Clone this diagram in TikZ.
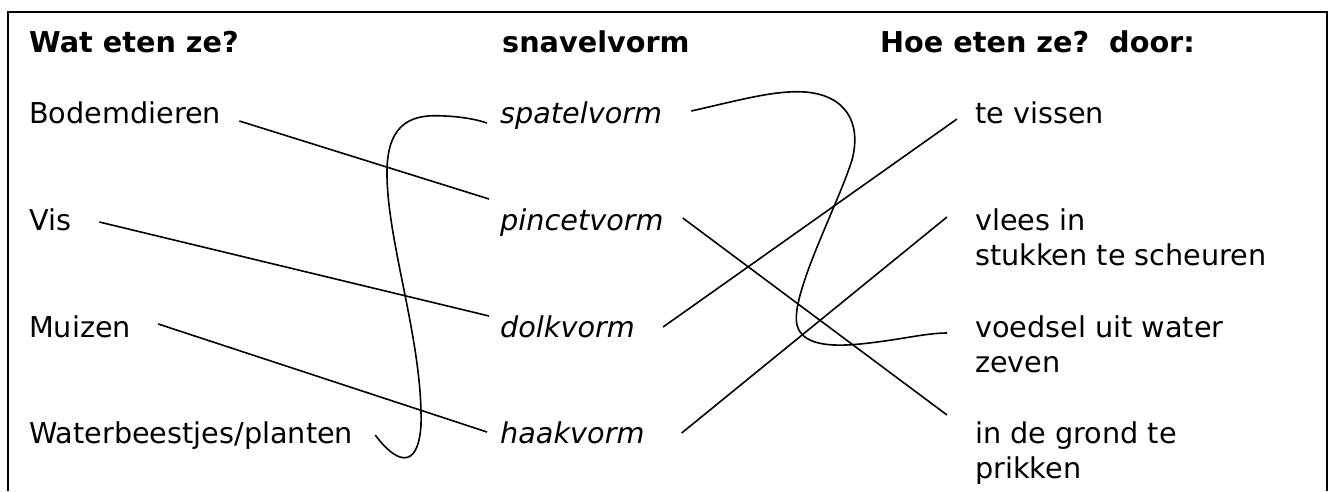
\documentclass[tikz,border=0pt]{standalone}
\usepackage{fontspec}
\setmainfont{DejaVu Sans}[ItalicFont={DejaVu Sans Oblique},BoldFont={DejaVu Sans Bold}]
\newcommand{\tekstgrootte}{\fontsize{28.7}{35}\selectfont}

\begin{document}
\begin{tikzpicture}[x=1pt,y=-1pt,
  tekst/.style={anchor=base west,inner sep=0pt,align=left,font=\tekstgrootte},
  kop/.style={tekst,font=\tekstgrootte\bfseries},
  vorm/.style={tekst,font=\tekstgrootte\itshape},
  lijn/.style={line width=1.6pt}]
\useasboundingbox (0,0) rectangle (1331,491);
% Frame, open at the bottom
\draw[line width=2.2pt] (8,491) -- (8,12) -- (1327,12) -- (1327,491);

% Column headings
\node[kop] (kopwat) at (29,52) {Wat eten ze?};
\node[kop] (kopvorm) at (502,52) {snavelvorm};
\node[kop] (kophoe) at (880,52) {Hoe eten ze?\ \ door:};

% Left column: food
\node[tekst] (bodem) at (29,123) {Bodemdieren};
\node[tekst] (vis) at (29,230) {Vis};
\node[tekst] (muis) at (29,337) {Muizen};
\node[tekst] (water) at (29,443) {Waterbeestjes/planten};

% Middle column: beak shapes
\node[vorm] (spatel) at (500,123) {spatelvorm};
\node[vorm] (pincet) at (500,230) {pincetvorm};
\node[vorm] (dolk) at (500,337) {dolkvorm};
\node[vorm] (haak) at (500,443) {haakvorm};

% Right column: how they eat (base = last line)
\node[tekst] (vissen) at (975,123) {te vissen};
\node[tekst] (vlees) at (975,265) {vlees in\\stukken te scheuren};
\node[tekst] (zeef) at (975,372) {voedsel uit water\\zeven};
\node[tekst] (grond) at (975,478) {in de grond te\\prikken};

% Straight connections
\draw[lijn] ([shift={(18,-2)}]bodem.base east) -- ([shift={(-11,-31)}]pincet.base west);
\draw[lijn] ([shift={(28,-8)}]vis.base east) -- ([shift={(-11,-21)}]dolk.base west);
\draw[lijn] ([shift={(27,-13)}]muis.base east) -- ([shift={(-13,-11)}]haak.base west);
\draw[lijn] ([shift={(19,-12)}]pincet.base east) -- ([shift={(-28,-63)}]grond.base west);
\draw[lijn] ([shift={(28,-10)}]dolk.base east) -- ([shift={(-18,-4)}]vissen.base west);
\draw[lijn] ([shift={(37,-10)}]haak.base east) -- ([shift={(-28,-48)}]vlees.base west);

% Curved connections
\draw[lijn] ([shift={(22,-8)}]water.base east)
  .. controls (395,462) and (418,472) .. (421,425)
  .. controls (423,340) and (386,240) .. (387,170)
  .. controls (388,120) and (415,114) .. (445,116)
  .. controls (465,117) and (478,120) .. ([shift={(-13,0)}]spatel.base west);
\draw[lijn] ([shift={(29,-12)}]spatel.base east)
  .. controls (740,100) and (775,90) .. (805,92)
  .. controls (845,95) and (862,122) .. (852,160)
  .. controls (838,205) and (790,295) .. (797,325)
  .. controls (802,345) and (830,347) .. (860,344)
  .. controls (900,340) and (925,333) .. ([shift={(-28,-39)}]zeef.base west);
\end{tikzpicture}
\end{document}
